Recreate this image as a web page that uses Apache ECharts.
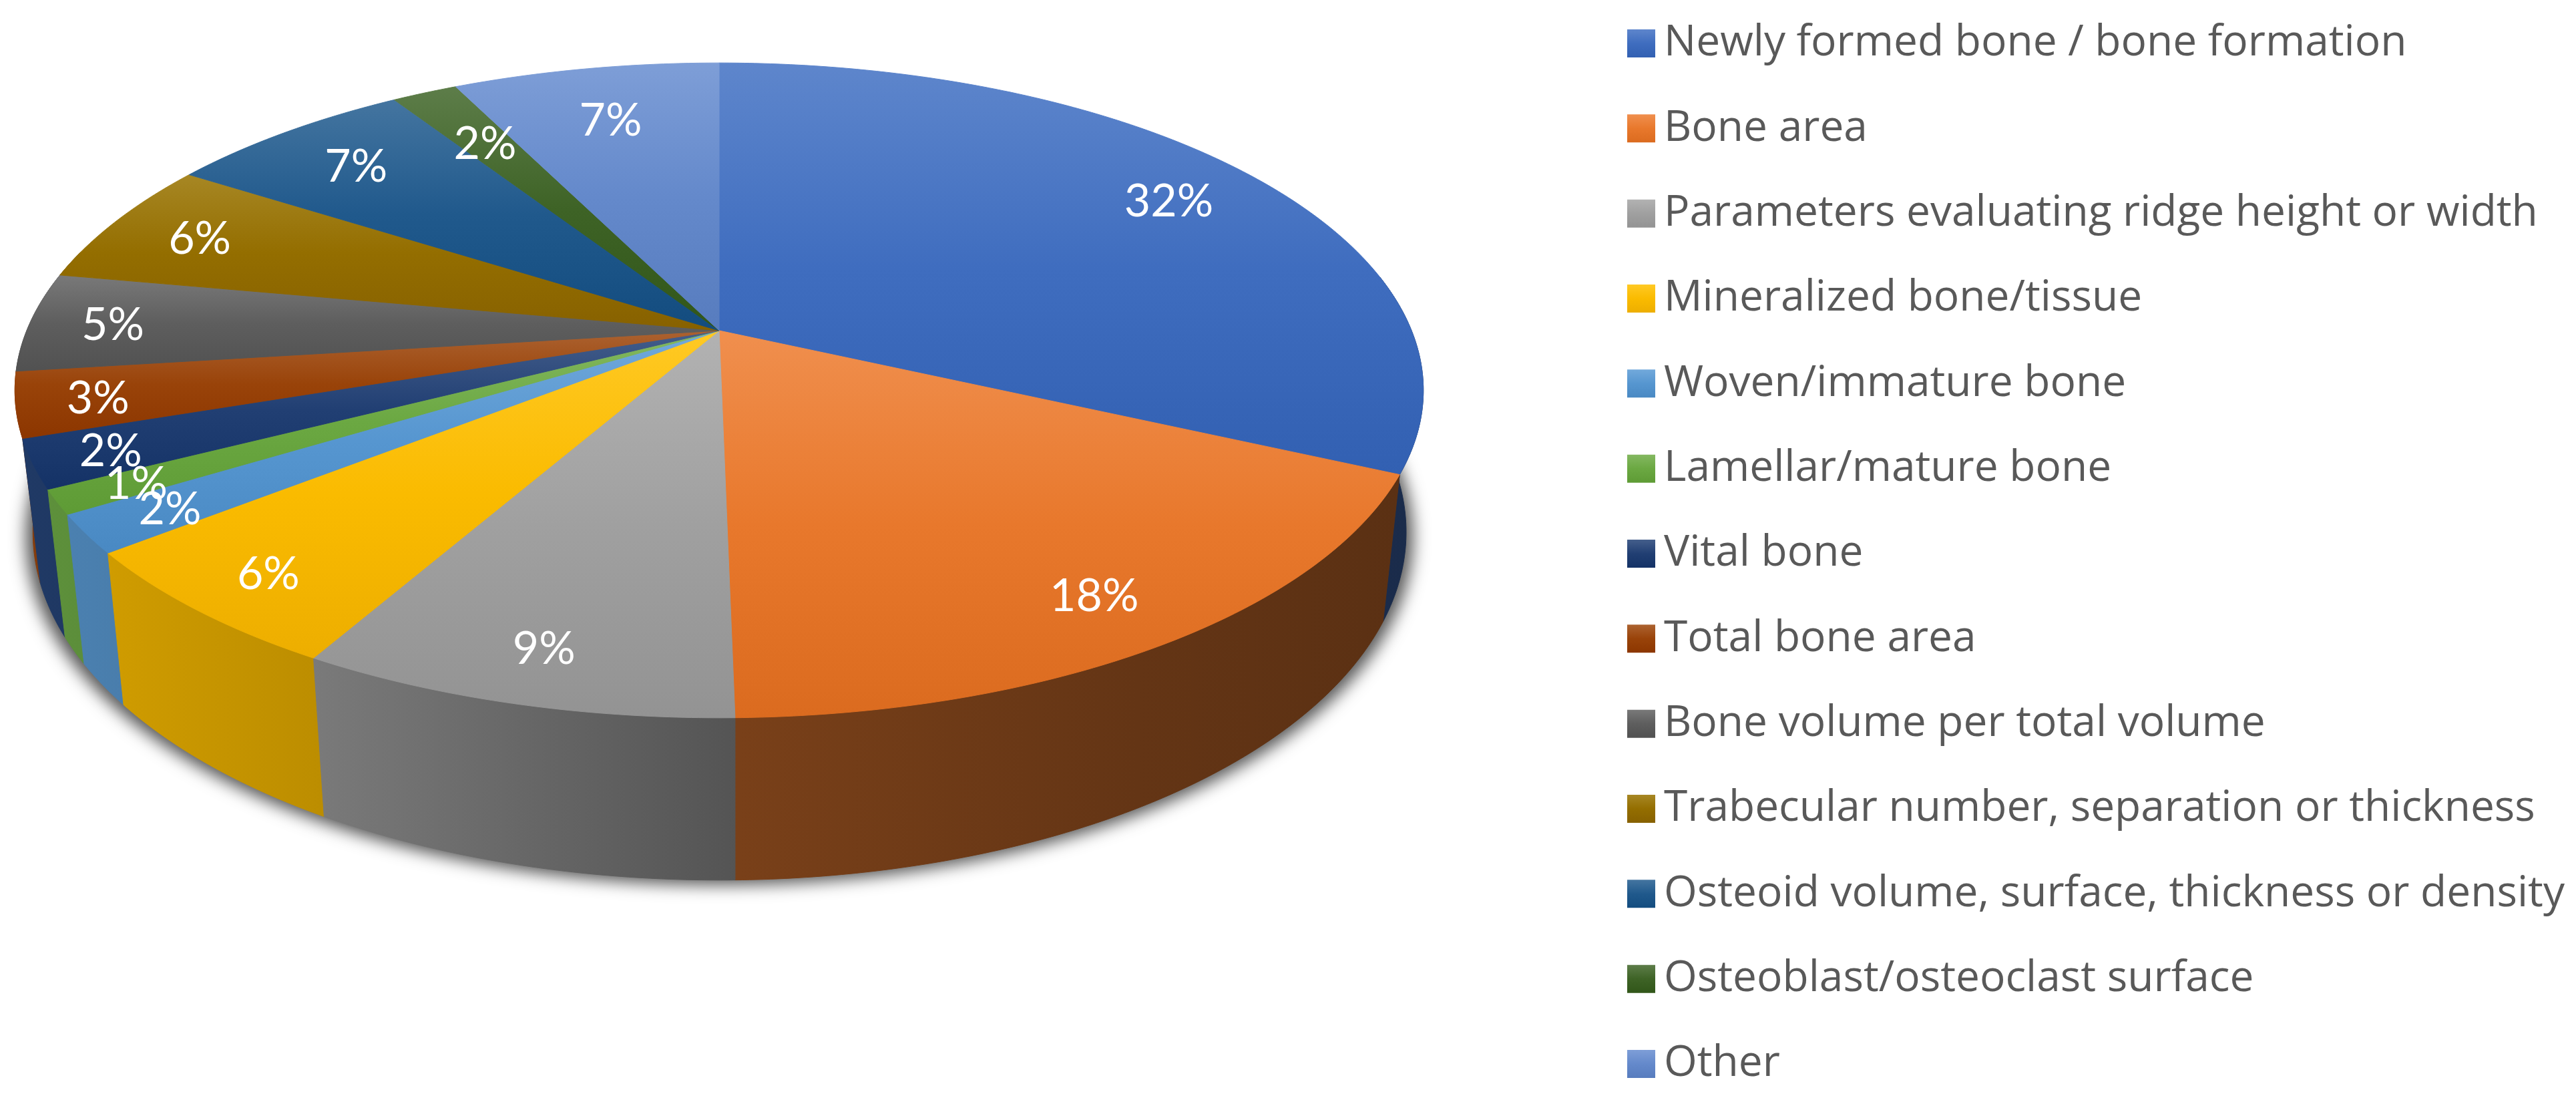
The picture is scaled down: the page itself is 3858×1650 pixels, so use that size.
<!DOCTYPE html>
<html>
<head>
<meta charset="utf-8">
<script src="https://cdn.jsdelivr.net/npm/echarts@6/dist/echarts.min.js"></script>
<style>
  html, body { margin: 0; padding: 0; background: #fff; }
  #chart { width: 3858px; height: 1650px; }
</style>
</head>
<body>
<div id="chart"></div>
<script>
const categories = [
  'Newly formed bone / bone formation',
  'Bone area',
  'Parameters evaluating ridge height or width',
  'Mineralized bone/tissue',
  'Woven/immature bone',
  'Lamellar/mature bone',
  'Vital bone',
  'Total bone area',
  'Bone volume per total volume',
  'Trabecular number, separation or thickness',
  'Osteoid volume, surface, thickness or density',
  'Osteoblast/osteoclast surface',
  'Other'
]
// shares read from the slice edges, labels round them
const shares = [31.9, 17.8, 8.5, 6.1, 1.9, 1.2, 2.4, 3.2, 4.9, 6.2, 6.8, 1.8, 7.3]
const colors = ['#4472c4', '#ed7d31', '#a5a5a5', '#ffc000', '#5b9bd5', '#70ad47', '#264478', '#9e480e', '#636363', '#997300', '#255e91', '#43682b', '#698ed0']

// how far out each percent label sits, as a fraction of the radius
const labelRadius = [0.834, 0.861, 0.871, 0.88, 0.88, 0.89, 0.894, 0.887, 0.88, 0.853, 0.82, 0.77, 0.786]

const LEGEND_FONT = '"Open Sans", sans-serif'
const LABEL_FONT = 'Lato, sans-serif'

// perspective of the pie top
const apexX = 1077
const apexY = 495
const radiusX = 1037
const radiusY = 474
const tilt = 0.1825

const total = shares.reduce((a, b) => a + b, 0)
const starts = []
shares.reduce((sum, v, i) => { starts[i] = sum; return sum + v }, 0)

const project = (deg, r = 1) => {
  const a = deg * Math.PI / 180
  const u = r * Math.sin(a)
  const v = r * Math.cos(a)
  const d = 1 + tilt * v
  return [apexX + radiusX * u / d, apexY - radiusY * v / d]
}

// lower rim of the pie, from a point on the upper rim
const dropToBase = ([x, y]) => [
  1102 + (x - 1102) * 0.975,
  y + 243 + (y - 1075) * 0.063
]

const rgb = hex => [1, 3, 5].map(i => parseInt(hex.slice(i, i + 2), 16))
const css = c => `rgb(${c.map(Math.round).join(',')})`
const lighten = (hex, t) => css(rgb(hex).map(ch => ch + (255 - ch) * t))
const subtract = (hex, d) => css(rgb(hex).map(ch => Math.max(0, ch - d)))
const darken = (hex, f) => css(rgb(hex).map(ch => ch * f))

// each slice has its own top to bottom sheen
const topFill = color => ({
  type: 'linear', x: 0, y: 0, x2: 0, y2: 1,
  colorStops: [
    { offset: 0, color: lighten(color, 0.14) },
    { offset: 0.5, color: subtract(color, 5) },
    { offset: 1, color: subtract(color, 18) }
  ]
})

const wallFill = color => ({
  type: 'linear', global: true, x: 0, y: 0, x2: 2130, y2: 0,
  colorStops: [
    { offset: 0, color: darken(color, 0.85) },
    { offset: 0.22, color: darken(color, 0.74) },
    { offset: 0.52, color: darken(color, 0.51) },
    { offset: 0.8, color: darken(color, 0.42) },
    { offset: 1, color: darken(color, 0.38) }
  ]
})

const arcPoints = (from, to) => {
  const n = Math.max(2, Math.ceil(Math.abs(to - from) * 2))
  const pts = []
  for (let i = 0; i <= n; i++) pts.push(project(from + (to - from) * i / n))
  return pts
}

const renderSlice = color => (params, api) => {
  const value = api.value(0)
  const from = api.value(1) / total * 360
  const to = from + value / total * 360
  const mid = (from + to) / 2
  const idx = params.seriesIndex - 1
  const children = []

  // only the front part of the rim has a visible wall
  const wallFrom = Math.max(from, 80)
  const wallTo = Math.min(to, 285)
  if (wallFrom < wallTo) {
    const upper = arcPoints(wallFrom, wallTo)
    const lower = upper.map(dropToBase).reverse()
    children.push({
      type: 'polygon',
      z2: 100 + Math.round(180 - Math.abs(mid - 180)),
      shape: { points: upper.concat(lower) },
      style: { fill: wallFill(color), stroke: wallFill(color), lineWidth: 1 }
    })
  }

  children.push({
    type: 'polygon',
    z2: 1000,
    shape: { points: [[apexX, apexY]].concat(arcPoints(from, to)) },
    style: { fill: topFill(color), stroke: topFill(color), lineWidth: 1 }
  })

  const at = project(mid, labelRadius[idx])
  children.push({
    type: 'text',
    z2: 2000,
    style: {
      x: at[0],
      y: at[1] + 4,
      text: Math.round(value) + '%',
      fill: '#fff',
      font: '68px ' + LABEL_FONT,
      align: 'center',
      verticalAlign: 'middle'
    }
  })
  return { type: 'group', children }
}

// soft shadow under the front of the pie, the shape itself sits off screen
const SHADOW_SHIFT = 6000
const renderShadow = () => {
  const pts = arcPoints(0, 360).map(dropToBase)
    .map(([x, y]) => [1102 + (x - 1102) * 1.01 - SHADOW_SHIFT, y + 7])
  return {
    type: 'polygon',
    z2: 1,
    shape: { points: pts },
    style: { fill: '#555', shadowBlur: 24, shadowColor: '#555', shadowOffsetX: SHADOW_SHIFT }
  }
}

const chart = echarts.init(document.getElementById('chart'))

chart.setOption({
  animation: false,
  backgroundColor: '#fff',
  legend: {
    data: categories,
    orient: 'vertical',
    left: 2432,
    top: 21,
    icon: 'rect',
    itemWidth: 42,
    itemHeight: 42,
    itemGap: 49.33,
    selectedMode: false,
    textStyle: { color: '#595959', fontFamily: LEGEND_FONT, fontSize: 64, lineHeight: 78, padding: [0, 0, 0, 8] }
  },
  series: [
    {
      type: 'custom',
      name: 'shadow',
      coordinateSystem: 'none',
      silent: true,
      data: [[0]],
      renderItem: renderShadow
    },
    ...categories.map((name, i) => ({
      type: 'custom',
      name,
      coordinateSystem: 'none',
      itemStyle: { color: topFill(colors[i]) },
      data: [[shares[i], starts[i]]],
      renderItem: renderSlice(colors[i])
    }))
  ]
})
</script>
</body>
</html>
